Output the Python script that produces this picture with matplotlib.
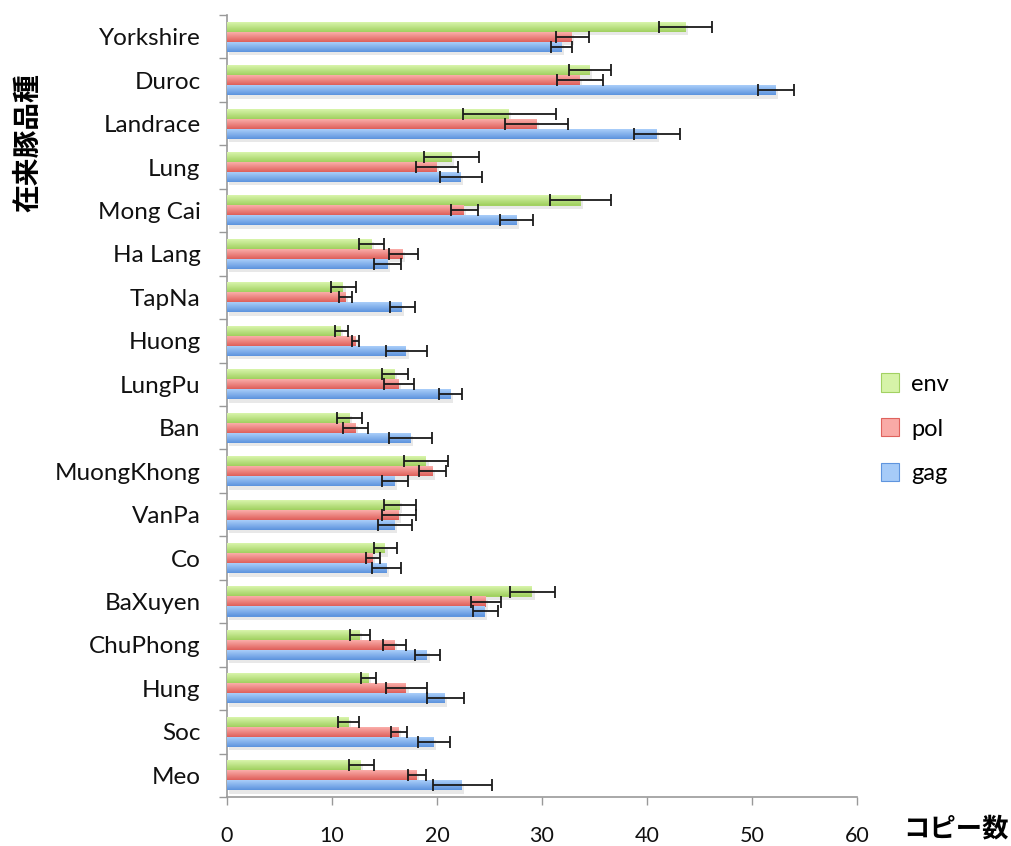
import numpy as np
import matplotlib
matplotlib.use("Agg")
import matplotlib.pyplot as plt
import matplotlib.patheffects as pe
from matplotlib.colors import to_rgb
from matplotlib.patches import Patch

breeds = ["Yorkshire", "Duroc", "Landrace", "Lung", "Mong Cai", "Ha Lang", "TapNa",
          "Huong", "LungPu", "Ban", "MuongKhong", "VanPa", "Co", "BaXuyen",
          "ChuPhong", "Hung", "Soc", "Meo"]

env = [43.7, 34.6, 26.9, 21.4, 33.7, 13.8, 11.1, 10.9, 16.0, 11.7, 19.0, 16.5, 15.1, 29.1, 12.7, 13.5, 11.6, 12.8]
env_err = [2.5, 2.0, 4.4, 2.6, 2.9, 1.2, 1.15, 0.6, 1.2, 1.2, 2.1, 1.55, 1.05, 2.15, 0.95, 0.7, 1.0, 1.2]
pol = [32.9, 33.6, 29.5, 20.0, 22.6, 16.8, 11.3, 12.25, 16.4, 12.25, 19.6, 16.4, 13.9, 24.7, 16.0, 17.1, 16.4, 18.1]
pol_err = [1.6, 2.2, 3.0, 2.0, 1.3, 1.35, 0.65, 0.35, 1.4, 1.2, 1.3, 1.6, 0.65, 1.45, 1.1, 1.95, 0.75, 0.9]
gag = [31.9, 52.3, 41.0, 22.3, 27.6, 15.3, 16.7, 17.1, 21.3, 17.5, 16.0, 16.0, 15.2, 24.6, 19.1, 20.8, 19.7, 22.4]
gag_err = [1.0, 1.75, 2.2, 2.0, 1.6, 1.25, 1.2, 1.95, 1.1, 2.05, 1.2, 1.6, 1.35, 1.2, 1.15, 1.75, 1.55, 2.8]

x_ticks = [0, 10, 20, 30, 40, 50, 60]
series_names = ["env", "pol", "gag"]

plt.rcParams["font.family"] = ["Lato", "Noto Sans CJK JP", "DejaVu Sans"]

fig = plt.figure(figsize=(10.11, 8.46), dpi=100)
ax = fig.add_axes([0.2245, 0.0579, 0.623, 0.9244])

y = np.arange(len(breeds))
h = 0.23

# (light, dark) colour pairs for the vertical gradient of each series
shades = {
    "env": ("#d6f3a8", "#a2d162"),
    "pol": ("#f9aaa6", "#df625d"),
    "gag": ("#a6cbf8", "#5f95de"),
}

def gradient_bars(vals, errs, offset, name):
    light, dark = (np.array(to_rgb(c)) for c in shades[name])
    pos = y + offset
    base = ax.barh(pos, vals, height=h, color=dark, zorder=2, linewidth=0)
    for b in base:
        b.set_path_effects([pe.SimplePatchShadow(offset=(1.5, -2.5), shadow_rgbFace="#000000", alpha=0.09),
                            pe.Normal()])
    n = 10
    for k in range(n):
        t = k / (n - 1)
        col = light * (1 - t) + dark * t
        top = pos - h / 2 + k * h / n
        ax.barh(top + h / (2 * n), vals, height=h / n * 1.05, color=col, zorder=3, linewidth=0)
    ax.errorbar(vals, pos, xerr=errs, fmt="none", ecolor="#1a1a1a", elinewidth=1.3,
                capsize=4.5, capthick=1.3, zorder=5)

gradient_bars(env, env_err, -h, "env")
gradient_bars(pol, pol_err, 0.0, "pol")
gradient_bars(gag, gag_err, h, "gag")

ax.set_xlim(0, 60)
ax.set_ylim(len(breeds) - 0.5, -0.5)
ax.set_xticks(x_ticks)
ax.set_xticklabels([str(v) for v in x_ticks], fontsize=15.5, color="#111111")
ax.set_yticks(y)
ax.set_yticklabels(breeds, fontsize=17.5, color="#111111")
ax.tick_params(axis="y", which="major", length=0, pad=19)
ax.set_yticks(np.arange(len(breeds) + 1) - 0.5, minor=True)
ax.tick_params(axis="y", which="minor", length=6, color="#999999", width=1)
ax.tick_params(axis="x", which="major", length=6, color="#999999", width=1, pad=15)

for s in ("top", "right"):
    ax.spines[s].set_visible(False)
for s in ("left", "bottom"):
    ax.spines[s].set_color("#9a9a9a")
    ax.spines[s].set_linewidth(1.2)

fig.text(0.028, 0.831, "在来豚品種", rotation=90, ha="center", va="center",
         fontsize=20, fontweight="bold", family=["Noto Sans CJK JP", "DejaVu Sans"])
fig.text(0.946, 0.004, "コピー数", ha="center", va="bottom",
         fontsize=19, fontweight="bold", family=["Noto Sans CJK JP", "DejaVu Sans"])

handles = [Patch(facecolor=shades[n][0], edgecolor=shades[n][1], linewidth=0.8) for n in series_names]
leg = fig.legend(handles, series_names, loc="center left", bbox_to_anchor=(0.85, 0.493),
                 frameon=False, fontsize=17, handlelength=0.8, handleheight=0.8,
                 handletextpad=0.5, labelspacing=1.0)

fig.savefig("out.png", dpi=100)
